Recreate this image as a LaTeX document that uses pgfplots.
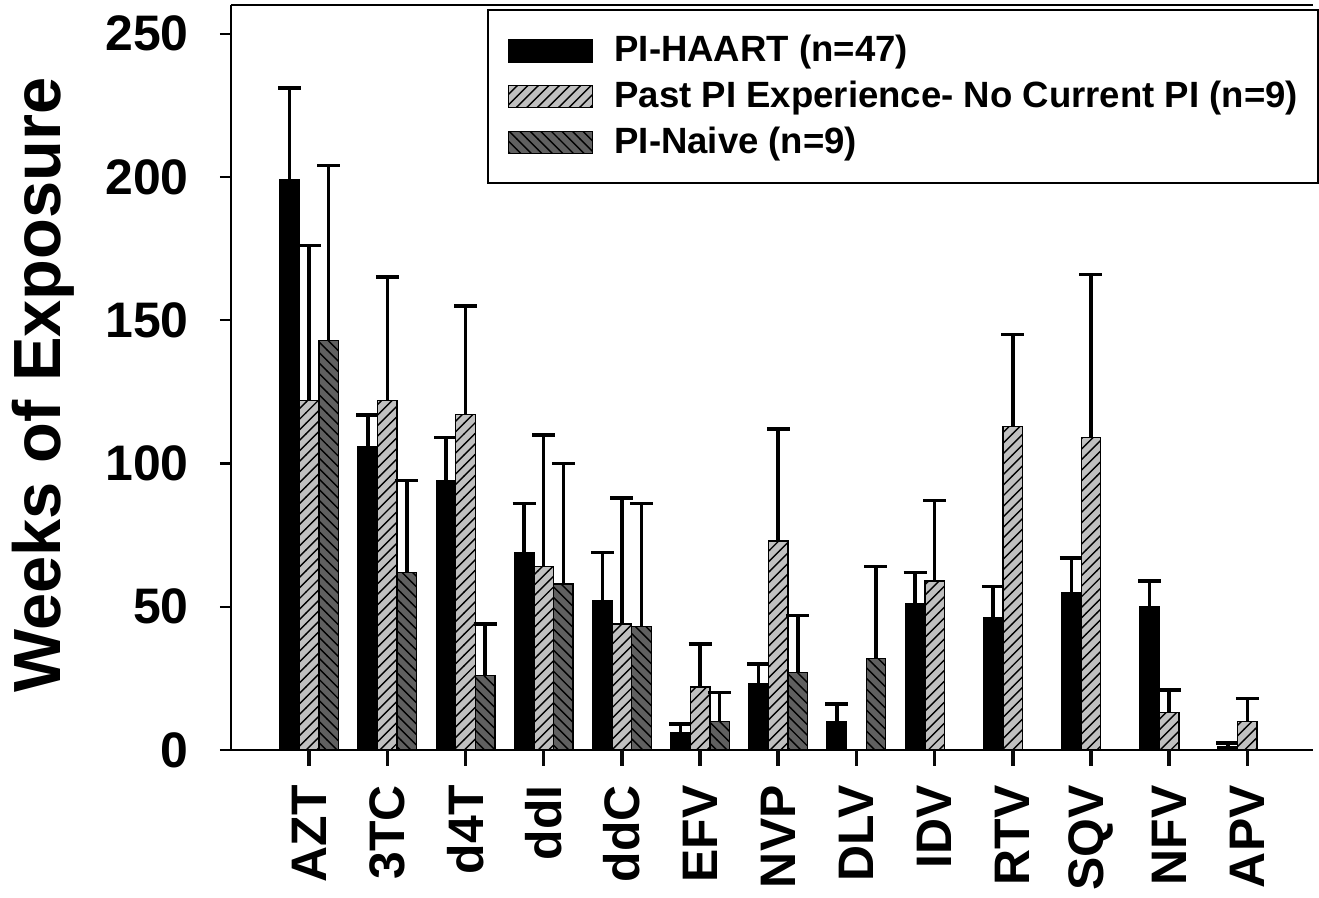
\documentclass[border=0pt]{standalone}
\usepackage{fontspec}
\setmainfont{Liberation Sans}
\usepackage{pgfplots}
\pgfplotsset{compat=1.18}
\usepackage{pgfplotstable}
\usetikzlibrary{patterns}
\definecolor{lightbar}{HTML}{C0C0C0}
\definecolor{darkbar}{HTML}{606060}
\definecolor{tickcol}{HTML}{0A0A0A}

% x = drug index, y = mean weeks, ey = upper error
\pgfplotstableread{
x y ey
0 199 32
1 106 11
2 94 15
3 69 17
4 52 17
5 6 3
6 23 7
7 10 6
8 51 11
9 46 11
10 55 12
11 50 9
12 1.3 1.1
}\haart
\pgfplotstableread{
x y ey
0 122 54
1 122 43
2 117 38
3 64 46
4 44 44
5 22 15
6 73 39
8 59 28
9 113 32
10 109 57
11 13 8
12 10 8
}\pastpi
\pgfplotstableread{
x y ey
0 143 61
1 62 32
2 26 18
3 58 42
4 43 43
5 10 10
6 27 20
7 32 32
}\naive

\begin{document}
\begin{tikzpicture}
\useasboundingbox (-23.1mm,-14.8mm) rectangle (108.8mm,75.0mm);
\begin{axis}[
    scale only axis,
    width=108.2mm, height=74.5mm,
    xmin=-1, xmax=12.84,
    ymin=0, ymax=260,
    axis x line=bottom, axis y line=left,
    axis line style={-, line width=0.6pt, black},
    after end axis/.code={
        \draw[line width=0.6pt] (rel axis cs:0,1) -- (rel axis cs:1,1);
    },
    tick align=outside,
    major tick length=1.1mm,
    tick style={line width=0.6pt, black},
    xtick={0,...,12},
    xticklabels={AZT,3TC,d4T,ddI,ddC,EFV,NVP,DLV,IDV,RTV,SQV,NFV,APV},
    extra x ticks={0,...,12},
    extra x tick labels={},
    extra x tick style={major tick length=1.6mm, tick style={draw=tickcol, line width=1pt}},
    ytick={0,50,...,250},
    /pgf/number format/assume math mode=true,
    tick label style={font=\fontsize{14.2}{16}\selectfont\bfseries},
    xticklabel style={rotate=90, anchor=east},
    xticklabel shift=1.2mm,
    yticklabel style={xshift=-1.9mm},
    ylabel={Weeks of Exposure},
    every axis y label/.style={at={(axis description cs:-0.1738,0.49)}, rotate=90, anchor=center},
    label style={font=\fontsize{19}{22}\selectfont\bfseries},
    ybar=0pt, bar width=0.25,
    every axis plot/.append style={draw=black, line width=0.4pt},
    error bars/y dir=plus, error bars/y explicit,
    error bars/error mark=|,
    error bars/error bar style={line width=1pt, black},
    error bars/error mark options={line width=1pt, black, mark size=1.15mm},
    legend image code/.code={\draw[#1] (0mm,-1.1mm) rectangle (8.4mm,1.1mm);},
    legend style={at={(axis description cs:0.2366,0.9946)}, anchor=north west,
        draw=black, line width=0.6pt,
        font=\fontsize{10.4}{12}\selectfont\bfseries,
        inner xsep=2mm, inner ysep=2.5mm,
        nodes={inner sep=0pt}, column sep=2.1mm, row sep=1.4mm},
    legend cell align=left,
]
\addplot[fill=black, bar shift=-0.25] table[x=x, y=y, y error plus=ey] {\haart};
\addplot[fill=lightbar, bar shift=0, postaction={pattern=north east lines}] table[x=x, y=y, y error plus=ey] {\pastpi};
\addplot[fill=darkbar, bar shift=0.25, postaction={pattern=north west lines}] table[x=x, y=y, y error plus=ey] {\naive};
\legend{PI-HAART (n=47), Past PI Experience- No Current PI (n=9), PI-Naive (n=9)}
\end{axis}
\end{tikzpicture}
\end{document}
